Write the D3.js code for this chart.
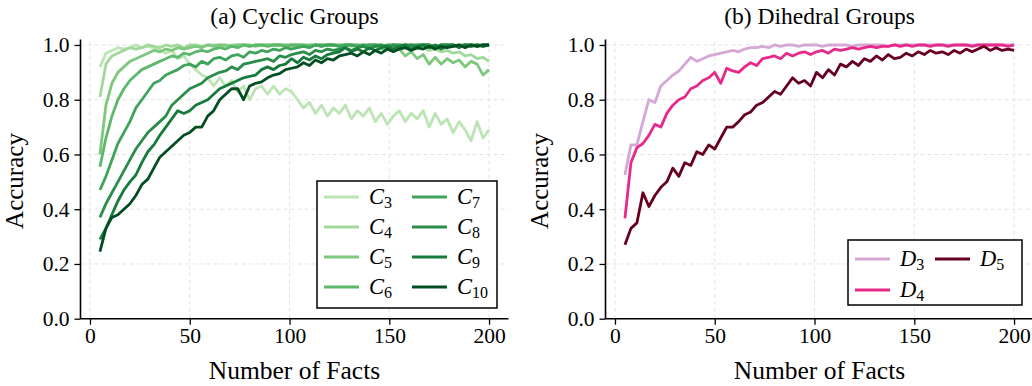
<!DOCTYPE html>
<html>
<head>
<meta charset="utf-8">
<script src="https://cdn.jsdelivr.net/npm/d3@7"></script>
<style>
  body { margin: 0; background: #fff; }
  svg text { font-family: "Liberation Serif", "Times New Roman", serif; fill: #000; }
</style>
</head>
<body>
<svg id="chart" width="1032" height="386"></svg>
<script>
// Number of facts (x) shared by every curve
const facts = d3.range(5, 201, 3);

// (a) Cyclic groups accuracy
const cyc3 = [0.92,0.97,0.98,0.99,0.985,0.99,1.0,0.99,0.995,0.99,
  0.98,0.97,0.98,0.95,0.96,0.93,0.91,
  0.89,0.88,0.85,0.88,0.85,0.87,0.83,0.85,0.80,0.84,
  0.85,0.82,0.85,0.82,0.84,0.83,0.80,0.77,0.79,0.75,
  0.78,0.74,0.77,0.75,0.78,0.73,0.76,0.74,0.77,0.72,
  0.75,0.71,0.74,0.76,0.72,0.75,0.73,0.76,0.70,0.75,
  0.71,0.73,0.68,0.72,0.69,0.65,0.72,0.66,0.69];
const cyc4 = [0.81,0.93,0.96,0.97,0.98,0.99,0.985,0.99,1.0,0.995,
  0.99,1.0,0.995,1.0,0.99,1.0,1.0,0.995,1.0,1.0,
  1.0,0.995,1.0,1.0,1.0,0.995,1.0,1.0,1.0,1.0,
  1.0,1.0,0.995,1.0,1.0,1.0,1.0,0.995,1.0,1.0,
  1.0,1.0,0.995,1.0,1.0,0.99,1.0,0.995,0.99,0.995,
  0.995,0.99,0.995,0.985,0.99,0.98,0.985,0.975,0.98,0.97,
  0.975,0.96,0.965,0.95,0.955,0.94];
const cyc5 = [0.60,0.78,0.86,0.90,0.92,0.94,0.95,0.96,0.97,0.98,
  0.975,0.985,0.98,0.99,0.985,0.99,0.995,0.99,1.0,0.995,
  1.0,1.0,0.995,1.0,1.0,1.0,0.995,1.0,1.0,1.0,
  1.0,1.0,1.0,1.0,0.995,1.0,1.0,1.0,1.0,1.0,
  1.0,1.0,1.0,0.995,1.0,0.99,0.995,0.985,0.99,0.98,
  0.985,0.96,0.975,0.95,0.965,0.93,0.955,0.93,0.95,0.935,
  0.945,0.92,0.94,0.93,0.89,0.91];
const cyc6 = [0.555,0.66,0.74,0.80,0.84,0.87,0.89,0.91,0.92,0.93,
  0.94,0.95,0.96,0.955,0.97,0.965,0.975,0.98,0.975,0.985,
  0.99,0.985,0.995,0.99,1.0,0.995,1.0,1.0,0.995,1.0,
  1.0,0.995,1.0,1.0,1.0,0.995,1.0,1.0,1.0,1.0,
  0.995,1.0,1.0,1.0,0.995,1.0,1.0,1.0,0.995,1.0,
  1.0,1.0,0.995,1.0,1.0,1.0,0.99,1.0,1.0,0.995,
  1.0,1.0,0.995,1.0,1.0,1.0];
const cyc7 = [0.47,0.52,0.58,0.64,0.68,0.72,0.77,0.80,0.83,0.86,
  0.87,0.89,0.90,0.91,0.925,0.93,0.92,0.94,0.93,0.95,
  0.955,0.945,0.96,0.965,0.955,0.975,0.97,0.98,0.975,0.985,
  0.98,0.99,0.985,0.99,0.995,0.99,1.0,0.995,1.0,1.0,
  0.995,1.0,1.0,0.995,1.0,1.0,1.0,0.995,1.0,1.0,
  1.0,0.995,1.0,1.0,1.0,1.0,0.995,1.0,1.0,1.0,
  0.995,1.0,1.0,1.0,0.995,1.0];
const cyc8 = [0.37,0.42,0.46,0.50,0.54,0.58,0.62,0.65,0.68,0.70,
  0.72,0.74,0.78,0.80,0.82,0.84,0.85,0.86,0.88,0.89,
  0.90,0.905,0.92,0.91,0.93,0.935,0.94,0.945,0.95,0.94,
  0.96,0.955,0.965,0.97,0.975,0.965,0.98,0.975,0.985,0.98,
  0.985,0.99,0.98,0.99,0.995,0.985,0.995,1.0,0.99,1.0,
  0.99,1.0,1.0,0.995,1.0,1.0,0.99,1.0,1.0,1.0,
  0.995,1.0,1.0,0.995,1.0,1.0];
const cyc9 = [0.29,0.33,0.38,0.43,0.47,0.50,0.525,0.57,0.61,0.635,
  0.67,0.70,0.73,0.76,0.75,0.76,0.78,0.79,0.80,0.82,
  0.84,0.85,0.86,0.87,0.88,0.885,0.89,0.91,0.92,0.91,
  0.925,0.93,0.95,0.935,0.955,0.945,0.96,0.95,0.965,0.97,
  0.975,0.99,0.975,0.985,0.975,0.99,0.98,0.99,0.995,0.985,
  0.995,1.0,0.985,0.995,1.0,0.99,1.0,0.985,0.995,1.0,
  0.99,1.0,0.995,1.0,0.995,1.0];
const cyc10 = [0.245,0.33,0.37,0.38,0.40,0.42,0.45,0.49,0.51,0.55,
  0.59,0.61,0.63,0.65,0.67,0.68,0.70,0.70,0.74,0.76,
  0.80,0.82,0.84,0.84,0.80,0.85,0.86,0.865,0.88,0.89,
  0.895,0.91,0.915,0.92,0.935,0.925,0.945,0.935,0.95,0.945,
  0.96,0.965,0.97,0.96,0.975,0.965,0.98,0.97,0.985,0.975,
  0.985,0.99,0.98,0.99,0.985,0.995,0.985,0.995,0.99,0.995,
  1.0,0.99,1.0,0.995,1.0,1.0];

// (b) Dihedral groups accuracy
const dih3 = [0.525,0.635,0.635,0.72,0.80,0.79,0.85,0.87,0.89,0.905,
  0.93,0.955,0.94,0.95,0.96,0.965,0.97,0.975,0.98,0.975,
  0.985,0.99,0.99,0.995,0.99,1.0,0.995,1.0,1.0,0.995,
  1.0,1.0,1.0,0.995,1.0,1.0,1.0,1.0,0.995,1.0,
  1.0,1.0,1.0,1.0,0.995,1.0,1.0,1.0,1.0,1.0,
  1.0,1.0,1.0,1.0,1.0,1.0,1.0,1.0,1.0,1.0,
  1.0,1.0,1.0,1.0,1.0,1.0];
const dih4 = [0.367,0.57,0.625,0.64,0.67,0.71,0.70,0.75,0.78,0.80,
  0.81,0.84,0.85,0.87,0.88,0.90,0.86,0.915,0.905,0.90,
  0.92,0.935,0.925,0.95,0.955,0.96,0.95,0.97,0.96,0.97,
  0.975,0.965,0.975,0.98,0.97,0.985,0.98,0.985,0.99,0.985,
  0.99,0.995,0.99,0.995,0.995,1.0,0.995,1.0,0.995,1.0,
  1.0,0.995,1.0,1.0,0.995,1.0,1.0,1.0,0.995,1.0,
  1.0,1.0,1.0,1.0,0.995,1.0];
const dih5 = [0.27,0.33,0.35,0.46,0.41,0.45,0.48,0.50,0.55,0.52,
  0.57,0.56,0.61,0.60,0.635,0.62,0.66,0.70,0.70,0.72,
  0.745,0.755,0.78,0.79,0.81,0.83,0.82,0.85,0.88,0.86,
  0.87,0.85,0.90,0.88,0.91,0.89,0.93,0.92,0.94,0.925,
  0.95,0.94,0.96,0.945,0.965,0.95,0.955,0.97,0.96,0.975,
  0.965,0.98,0.97,0.975,0.965,0.98,0.97,0.985,0.975,0.985,
  0.995,0.98,0.99,0.98,0.985,0.98];

const cyclicNames = ["3","4","5","6","7","8","9","10"];
const cyclicSeries = [cyc3, cyc4, cyc5, cyc6, cyc7, cyc8, cyc9, cyc10];
const dihedralNames = ["3","4","5"];
const dihedralSeries = [dih3, dih4, dih5];

const xTicks = [0, 50, 100, 150, 200];
const yTicks = [0, 0.2, 0.4, 0.6, 0.8, 1.0];

const greens = ["#bde4b5","#a1d99b","#7ec87e","#5cb86b","#3fa35b","#2a8d4a","#157a3a","#034d22"];
const pinks = ["#d4a7d4","#e7298a","#67001f"];

const svg = d3.select("#chart");

function drawPanel(opts) {
  const x = d3.scaleLinear().domain([-4.75, 209.75]).range([opts.left, opts.left + 428]);
  const y = d3.scaleLinear().domain([0, 1.02]).range([318.7, 39.5]);
  const g = svg.append("g");

  // grid
  g.selectAll(".gx").data(xTicks).enter().append("line")
    .attr("x1", d => x(d)).attr("x2", d => x(d))
    .attr("y1", y(0)).attr("y2", y(1.02))
    .attr("stroke", "#e3e3e3").attr("stroke-dasharray", "4,3");
  g.selectAll(".gy").data(yTicks).enter().append("line")
    .attr("x1", x(-4.75)).attr("x2", x(209.75))
    .attr("y1", d => y(d)).attr("y2", d => y(d))
    .attr("stroke", "#e3e3e3").attr("stroke-dasharray", "4,3");

  // lines
  const line = d3.line().x(d => x(d[0])).y(d => y(d[1]));
  opts.series.forEach((vals, i) => {
    g.append("path")
      .datum(facts.map((f, j) => [f, vals[j]]).filter(d => d[1] != null))
      .attr("fill", "none")
      .attr("stroke", opts.colors[i])
      .attr("stroke-width", 2.8)
      .attr("stroke-linejoin", "round")
      .attr("d", line);
  });

  // axes
  const ax = g.append("g").attr("transform", `translate(0,${y(0)})`)
    .call(d3.axisBottom(x).tickValues(xTicks).tickSize(6).tickPadding(3));
  const ay = g.append("g").attr("transform", `translate(${x(-4.75)},0)`)
    .call(d3.axisLeft(y).tickValues(yTicks).tickFormat(d3.format(".1f")).tickSize(6).tickPadding(5));
  [ax, ay].forEach(a => {
    a.select(".domain").remove();
    a.selectAll(".tick line").attr("stroke-width", 1.3);
    a.selectAll("text").style("font-size", "21.5px").attr("font-family", null);
  });
  g.append("line").attr("x1", x(-4.75)).attr("x2", x(209.75))
    .attr("y1", y(0)).attr("y2", y(0)).attr("stroke", "#000").attr("stroke-width", 1.6);
  g.append("line").attr("x1", x(-4.75)).attr("x2", x(-4.75))
    .attr("y1", y(0)).attr("y2", y(1.02)).attr("stroke", "#000").attr("stroke-width", 1.6);

  // titles and labels
  const cx = opts.left + 214;
  g.append("text").attr("x", cx).attr("y", 24).attr("text-anchor", "middle")
    .style("font-size", "23.5px").text(opts.title);
  g.append("text").attr("x", cx).attr("y", 379).attr("text-anchor", "middle")
    .style("font-size", "25.5px").text("Number of Facts");
  g.append("text").attr("transform", `translate(${opts.left - 58},181) rotate(-90)`)
    .attr("text-anchor", "middle").style("font-size", "25px").text("Accuracy");

  // legend
  const lg = g.append("g").attr("transform", `translate(${opts.legend.x},${opts.legend.y})`);
  lg.append("rect").attr("width", opts.legend.w).attr("height", opts.legend.h)
    .attr("fill", "#fff").attr("stroke", "#000").attr("stroke-width", 1.5);
  opts.names.forEach((n, i) => {
    const col = Math.floor(i / opts.legend.rows);
    const row = i % opts.legend.rows;
    const lx = 7 + col * opts.legend.colW;
    const ly = opts.legend.top + row * opts.legend.rowH;
    lg.append("line").attr("x1", lx).attr("x2", lx + 35).attr("y1", ly).attr("y2", ly)
      .attr("stroke", opts.colors[i]).attr("stroke-width", 2.8);
    const t = lg.append("text").attr("x", lx + 45).attr("y", ly + 7).style("font-size", "22.5px");
    t.append("tspan").style("font-style", "italic").text(opts.letter);
    t.append("tspan").attr("dy", 4).style("font-size", "16px").text(n);
  });
}

drawPanel({
  left: 80.5, title: "(a) Cyclic Groups", series: cyclicSeries, colors: greens,
  names: cyclicNames, letter: "C",
  legend: { x: 317, y: 181, w: 180, h: 127, rows: 4, colW: 88, top: 16, rowH: 30 }
});
drawPanel({
  left: 605.5, title: "(b) Dihedral Groups", series: dihedralSeries, colors: pinks,
  names: dihedralNames, letter: "D",
  legend: { x: 848, y: 240, w: 174, h: 65, rows: 2, colW: 80, top: 19, rowH: 31 }
});
</script>
</body>
</html>
